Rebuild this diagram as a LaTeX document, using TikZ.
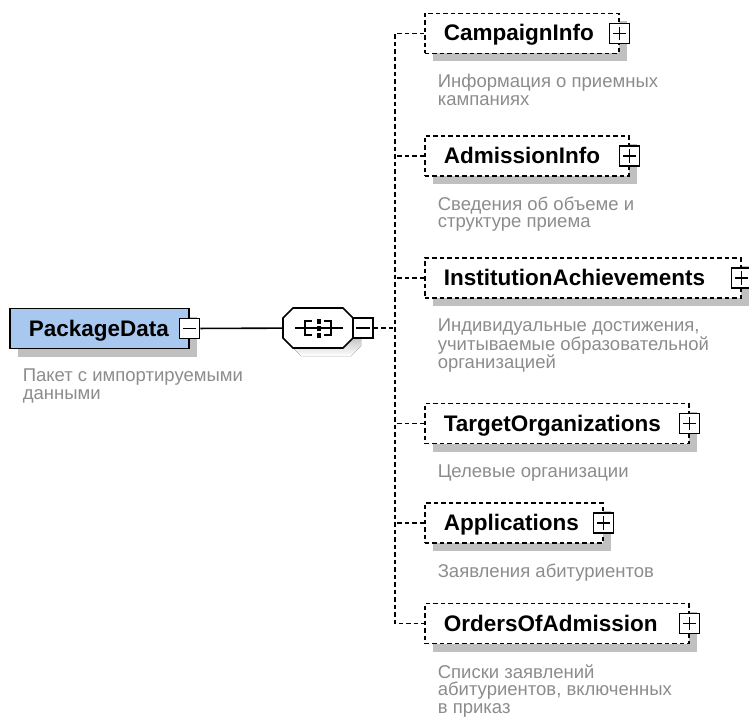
\documentclass[tikz,border=0pt]{standalone}
\usepackage{fontspec}
\setmainfont{Liberation Sans}
\usetikzlibrary{shadows}
\definecolor{shade}{RGB}{192,192,192}
\definecolor{note}{RGB}{140,140,140}
\definecolor{rootfill}{RGB}{168,200,240}
\tikzset{
  shadowed/.style={drop shadow={shadow xshift=8pt,shadow yshift=-8pt,fill=shade,opacity=1}},
  box/.style={draw,line width=1.6pt,inner xsep=19pt,inner ysep=0pt,minimum height=40pt,anchor=west,
    align=left,text height=15pt,text depth=0pt,font=\fontsize{22.5}{27}\selectfont\bfseries,shadowed},
  elem/.style={box,fill=white,dash pattern=on 4.5pt off 3pt},
  pm/.style={draw,line width=1.6pt,fill=white,minimum size=20pt,inner sep=0pt},
  note/.style={anchor=north west,inner sep=0pt,align=left,text=note,font=\fontsize{18.5}{17.5}\selectfont},
  conn/.style={line width=1.6pt,dash pattern=on 4.5pt off 3pt}
}
\begin{document}
\begin{tikzpicture}[x=1pt,y=-1pt,line width=1.6pt]
  \useasboundingbox (0,0) rectangle (749,722);
  % root element
  \node[box,fill=rootfill,minimum width=179pt,text width=141pt] (pkg) at (9,328.5) {PackageData};
  \node[note] (pkgnote) at (22,368) {Пакет с импортируемыми\\данными};
  \node[pm] (pm0) at (pkg.east) {};
  \draw ([xshift=4pt]pm0.west) -- ([xshift=-4pt]pm0.east);
  % sequence
  \node[minimum width=70pt,minimum height=40pt,inner sep=0pt] (seq) at (318,328) {};
  \begin{scope}[shift={(seq.center)}]
    \fill[shade] (-27,-2) -- (-17,-12) -- (33,-12) -- (43,-2) -- (43,18) -- (33,28)
      -- (-17,28) -- (-27,18) -- cycle;
    \draw[fill=white] (-35,-10) -- (-25,-20) -- (25,-20) -- (35,-10) -- (35,10) -- (25,20)
      -- (-25,20) -- (-35,10) -- cycle;
    \draw (-23,0) -- (25,0);
    \draw (-6,-7) -- (-13,-7) -- (-13,7) -- (-6,7);
    \draw (6,-7) -- (13,-7) -- (13,7) -- (6,7);
    \foreach \y in {-7,0,7}{
      \fill (-1.5,\y-2.5) rectangle (2.5,\y+2.5);
    }
  \end{scope}
  \draw (pm0) -- (seq);
  \node[pm] (pm1) at (363,328) {};
  \draw ([xshift=4pt]pm1.west) -- ([xshift=-4pt]pm1.east);
  \coordinate (j) at (395,328);
  \draw[conn] (pm1) -- (j);
  % children
  \foreach \nm/\cy/\w/\txt [count=\i] in {
      CampaignInfo/33.5/194/{Информация о приемных\\кампаниях},
      AdmissionInfo/156/204/{Сведения об объеме и\\структуре приема},
      InstitutionAchievements/278/316/{Индивидуальные достижения,\\учитываемые образовательной\\организацией},
      TargetOrganizations/423.5/264/{Целевые организации},
      Applications/523/178/{Заявления абитуриентов},
      OrdersOfAdmission/623.5/264/{Списки заявлений\\абитуриентов, включенных\\в приказ}}{
    \pgfmathsetmacro\tw{\w-38}
    \node[elem,minimum width=\w pt,text width=\tw pt] (e\i) at (424,\cy) {\nm};
    \node[note] (n\i) at (437,\cy+40) {\txt};
    \node[pm] (p\i) at (e\i.east) {};
    \draw ([xshift=4pt]p\i.west) -- ([xshift=-4pt]p\i.east)
      ([yshift=-4pt]p\i.north) -- ([yshift=4pt]p\i.south);
  }
  \draw[conn] (e1.west) -- (395,0 |- e1.west) -- (395,0 |- e6.west) -- (e6.west);
  \foreach \i in {2,...,5}{
    \draw[conn] (e\i.west) -- (395,0 |- e\i.west);
  }
\end{tikzpicture}
\end{document}
